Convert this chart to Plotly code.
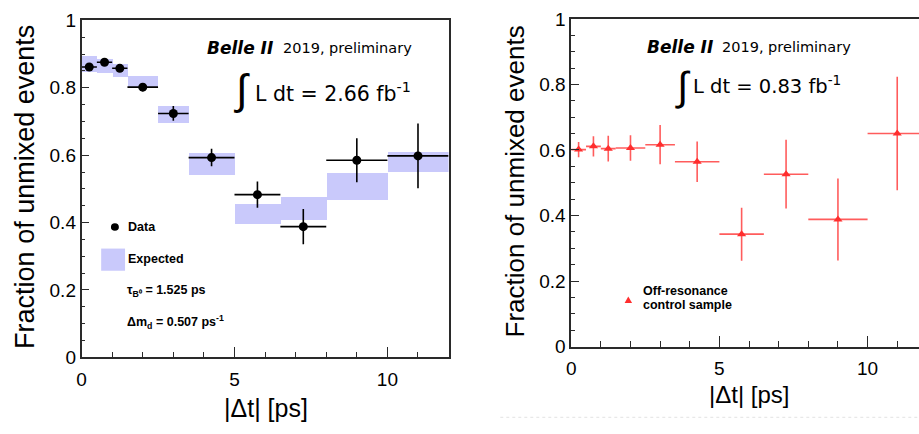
import plotly.graph_objects as go

# Delta-t binning (ps) shared by both panels
bin_lo = [0.0, 0.5, 1.0, 1.5, 2.5, 3.5, 5.0, 6.5, 8.0, 10.0]
bin_hi = [0.5, 1.0, 1.5, 2.5, 3.5, 5.0, 6.5, 8.0, 10.0, 12.0]

# On-resonance data: fraction of unmixed events and its uncertainty
data_dt = [0.25, 0.75, 1.25, 2.0, 3.0, 4.25, 5.75, 7.25, 9.0, 11.0]
data_frac = [0.862, 0.876, 0.858, 0.802, 0.724, 0.593, 0.483, 0.388, 0.585, 0.598]
data_err = [0.006, 0.007, 0.008, 0.012, 0.022, 0.026, 0.039, 0.052, 0.065, 0.096]

# Expected band (lower / upper edge per bin)
exp_lo = [0.846, 0.843, 0.831, 0.798, 0.694, 0.540, 0.393, 0.405, 0.465, 0.548]
exp_hi = [0.893, 0.883, 0.869, 0.835, 0.746, 0.605, 0.454, 0.475, 0.547, 0.607]

# Off-resonance control sample
off_dt = [0.25, 0.75, 1.25, 2.0, 3.0, 4.25, 5.75, 7.25, 9.0, 11.0]
off_frac = [0.601, 0.611, 0.604, 0.606, 0.616, 0.564, 0.343, 0.526, 0.388, 0.650]
off_err = [0.023, 0.031, 0.039, 0.039, 0.060, 0.062, 0.081, 0.105, 0.125, 0.173]

y_ticks = [0, 0.2, 0.4, 0.6, 0.8, 1]
x_ticks = [0, 5, 10]

W, H = 919, 434


def px(x):
    return x / W


def py(y):
    return 1 - y / H


half_w = [(h - l) / 2 for l, h in zip(bin_lo, bin_hi)]
bin_mid = [(h + l) / 2 for l, h in zip(bin_lo, bin_hi)]

AX_FONT = "Liberation Sans, Arial, sans-serif"
TXT_FONT = "DejaVu Sans, sans-serif"
LINE = "#2a2a2a"

fig = go.Figure()

# Expected band as floating bars
fig.add_trace(go.Bar(
    x=bin_mid, y=[h - l for l, h in zip(exp_lo, exp_hi)], base=exp_lo,
    width=[h - l for l, h in zip(bin_lo, bin_hi)],
    marker=dict(color="#c9c9fb", line=dict(width=0)),
    xaxis="x", yaxis="y", showlegend=False, hoverinfo="skip",
))

# Data points
fig.add_trace(go.Scatter(
    x=data_dt, y=data_frac, mode="markers",
    marker=dict(symbol="circle", size=9, color="black"),
    error_x=dict(type="data", array=half_w, color="black", thickness=1.6, width=0),
    error_y=dict(type="data", array=data_err, color="black", thickness=1.6, width=0),
    xaxis="x", yaxis="y", showlegend=False,
))

# Off-resonance points
fig.add_trace(go.Scatter(
    x=off_dt, y=off_frac, mode="markers",
    marker=dict(symbol="triangle-up", size=8, color="#ff2e2e"),
    error_x=dict(type="data", array=half_w, color="#ff5c5c", thickness=1.6, width=0),
    error_y=dict(type="data", array=off_err, color="#ff5c5c", thickness=1.6, width=0),
    xaxis="x2", yaxis="y2", showlegend=False,
))

common_x = dict(
    range=[0, 12], tickvals=x_ticks, ticks="inside", ticklen=11, tickwidth=1.3,
    tickcolor=LINE, showline=True, linecolor=LINE, linewidth=1.6,
    showgrid=False, zeroline=False, ticklabelstandoff=4,
    minor=dict(dtick=1, ticks="inside", ticklen=6, tickcolor=LINE, tickwidth=1.1),
    tickfont=dict(family=AX_FONT, size=19, color="black"),
)
common_y = dict(
    range=[0, 1], tickvals=y_ticks, ticks="inside", ticklen=8, tickwidth=1.3,
    tickcolor=LINE, showline=True, linecolor=LINE, linewidth=1.6,
    showgrid=False, zeroline=False,
    minor=dict(dtick=0.05, ticks="inside", ticklen=4, tickcolor=LINE, tickwidth=1.1),
    tickfont=dict(family=AX_FONT, size=19, color="black"),
)

fig.update_layout(
    width=W, height=H, margin=dict(l=0, r=0, t=0, b=0),
    paper_bgcolor="white", plot_bgcolor="white",
    barmode="overlay", bargap=0,
    xaxis=dict(common_x, domain=[px(77), px(446)], anchor="y", mirror=True),
    yaxis=dict(common_y, domain=[py(365), py(11)], anchor="x", mirror=True),
    xaxis2=dict(common_x, domain=[px(569.3), 1.0], anchor="y2", mirror=True,
                range=[0, (W - 569.3) / 29.8]),
    yaxis2=dict(common_y, domain=[py(353.7), py(9.3)], anchor="x2"),
)

ann = []


def text(x, y, s, size, font=TXT_FONT, xanchor="left", yanchor="middle", angle=0):
    ann.append(dict(
        x=px(x), y=py(y), xref="paper", yref="paper", text=s, showarrow=False,
        xanchor=xanchor, yanchor=yanchor, textangle=angle, borderpad=0,
        font=dict(family=font, size=size, color="black"),
    ))


# Axis titles
text(20, 186, "Fraction of unmixed events", 27, AX_FONT, "center", "middle", -90)
text(262, 418, "|Δt| [ps]", 25, AX_FONT, "center", "middle")
text(513, 180, "Fraction of unmixed events", 26, AX_FONT, "center", "middle", -90)
text(749, 404, "|Δt| [ps]", 24, AX_FONT, "center", "middle")

# Headers
text(202, 40, "<b><i>Belle II</i></b>", 17)
text(279, 40, "2019, preliminary", 14.5)
text(645, 39, "<b><i>Belle II</i></b>", 17)
text(720, 39, "2019, preliminary", 14.5)

# Integrated luminosity
text(238, 84, "∫", 42, AX_FONT, "center", "middle")
text(250, 87, "L dt = 2.66 fb<sup>-1</sup>", 20.5)
text(682, 80, "∫", 40, AX_FONT, "center", "middle")
text(691, 79, "L dt = 0.83 fb<sup>-1</sup>", 19.5)

# Left legend
text(123, 228, "<b>Data</b>", 12.5, AX_FONT)
text(123, 262, "<b>Expected</b>", 12.5, AX_FONT)
text(122, 295, "<b>τ<sub>B⁰</sub> = 1.525 ps</b>", 12.5, AX_FONT)
text(122, 328, "<b>Δm<sub>d</sub> = 0.507 ps<sup>-1</sup></b>", 12.5, AX_FONT)

# Right legend
text(640, 295, "<b>Off-resonance</b>", 12.5, AX_FONT)
text(640, 310, "<b>control sample</b>", 12.5, AX_FONT)

fig.update_layout(annotations=ann)

shapes = [
    # legend glyphs
    dict(type="circle", xref="paper", yref="paper",
         x0=px(106.5), x1=px(114.5), y0=py(232), y1=py(224),
         fillcolor="black", line=dict(width=0)),
    dict(type="rect", xref="paper", yref="paper",
         x0=px(96.7), x1=px(120.7), y0=py(274), y1=py(250.7),
         fillcolor="#c9c9fb", line=dict(width=0)),
    dict(type="path", xref="paper", yref="paper",
         path=f"M {px(623)} {py(308)} L {px(630.5)} {py(308)} L {px(626.7)} {py(301)} Z",
         fillcolor="#ff2e2e", line=dict(width=0)),
    # faint dotted rule under the right panel
    dict(type="line", xref="paper", yref="paper",
         x0=px(498), x1=1, y0=py(428), y1=py(428),
         line=dict(color="#e2e2e2", width=1, dash="dot")),
]
fig.update_layout(shapes=shapes)

fig.write_html("out.html")
